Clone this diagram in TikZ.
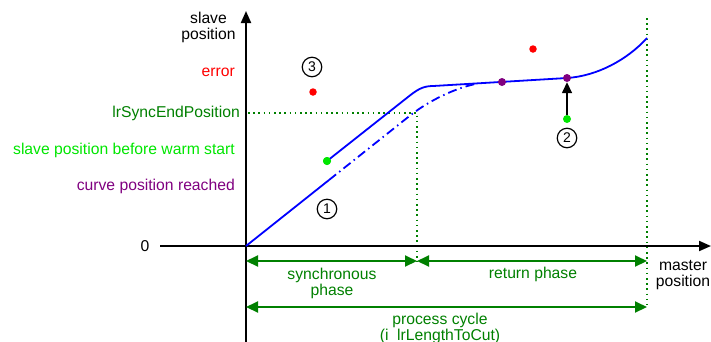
\documentclass[tikz,border=0pt]{standalone}
\usepackage{fontspec}
\setmainfont{Liberation Sans}
\usetikzlibrary{arrows.meta}
\definecolor{dgreen}{RGB}{0,128,0}
\definecolor{lgreen}{RGB}{0,230,0}
\definecolor{purp}{RGB}{128,0,128}
\definecolor{cblue}{RGB}{0,0,255}
\begin{document}
\begin{tikzpicture}[x=1pt,y=-1pt,
  lbl/.style={inner sep=0pt,font=\fontsize{15.7pt}{16pt}\selectfont},
  circnum/.style={draw,circle,line width=1.2pt,minimum size=19.5pt,inner sep=0pt,font=\fontsize{14pt}{14pt}\selectfont},
  dotnode/.style={circle,inner sep=0pt,minimum size=8pt},
  axisline/.style={line width=2pt,-{Triangle[length=12pt,width=10pt]}},
  garrow/.style={dgreen,line width=2pt,{Triangle[length=12pt,width=11pt]}-{Triangle[length=12pt,width=11pt]}},
  gdotted/.style={dgreen,line width=1.6pt,dash pattern=on 1.6pt off 3.6pt},
  curveline/.style={cblue,line width=1.8pt},
  dashdot/.style={cblue,line width=1.8pt,dash pattern=on 9pt off 4pt on 1.5pt off 4pt}]
\useasboundingbox (0,0) rectangle (711,341);
% coordinates
\coordinate (O) at (246,246);
\coordinate (ytop) at (246,11);
\coordinate (ybot) at (246,350);
\coordinate (xleft) at (160,246);
\coordinate (xright) at (711,246);
\coordinate (hd0) at (248,113);
\coordinate (hd1) at (417,113);
\coordinate (vd1) at (417,262);
\coordinate (vr0) at (647,18);
\coordinate (vr1) at (647,305);
\coordinate (sA) at (246,261);
\coordinate (sB) at (417,261);
\coordinate (sC) at (647,261);
\coordinate (pA) at (246,307);
\coordinate (pB) at (647,307);
% dotted guide lines
\draw[gdotted] (hd0) -- (hd1) -- (vd1);
\draw[gdotted] (vr0) -- (vr1);
% axes
\draw[axisline] (ybot) -- (ytop);
\draw[axisline] (xleft) -- (xright);
% curves
\coordinate (c1) at (329,180);
\coordinate (c2) at (410,115.6);
\coordinate (c3) at (424,104.5);
\coordinate (c4) at (450,89);
\coordinate (c5) at (478,83.4);
\draw[curveline] (O) -- (c1);
\draw[dashdot] (c1) -- (c2) .. controls (c3) and (c4) .. (c5);
\coordinate (u1) at (410,95.4);
\coordinate (u2) at (420,87.5);
\coordinate (u3) at (425,86);
\coordinate (u4) at (435,85.9);
\coordinate (u5) at (567,78);
\coordinate (u6) at (597,76);
\coordinate (u7) at (627,60);
\coordinate (u8) at (647,38);
\node[dotnode,fill=lgreen] (g1) at (327,161) {};
\draw[curveline] (g1.center) -- (u1) .. controls (u2) and (u3) .. (u4) -- (u5) .. controls (u6) and (u7) .. (u8);
% dots
\node[dotnode,fill=lgreen] (g1b) at (327,161) {};
\node[dotnode,fill=red,minimum size=7.5pt] (r1) at (313,92) {};
\node[dotnode,fill=red,minimum size=7.5pt] (r2) at (533,49) {};
\node[dotnode,fill=purp] (p1) at (502,82) {};
\node[dotnode,fill=purp] (p2) at (567,78) {};
\node[dotnode,fill=lgreen] (g2) at (567,119) {};
\draw[line width=1.5pt,-{Triangle[length=11pt,width=10pt]}] (g2) -- (p2);
% circled numbers
\node[circnum] (n1) at (327,209) {1};
\node[circnum] (n2) at (567,138) {2};
\node[circnum] (n3) at (312,67) {3};
% phase arrows
\draw[garrow] (sA) -- (sB);
\draw[garrow] (sB) -- (sC);
\draw[garrow] (pA) -- (pB);
% labels
\node[lbl,align=center] (ylab) at (208.5,27.5) {slave\\position};
\node[lbl,anchor=east,text=red] (lerr) at (235,72) {error};
\node[lbl,anchor=east,text=dgreen] (lsync) at (240,113) {lrSyncEndPosition};
\node[lbl,anchor=east,text=lgreen] (lwarm) at (235,150) {slave position before warm start};
\node[lbl,anchor=east,text=purp] (lcurve) at (235,186) {curve position reached};
\node[lbl] (lzero) at (145,246) {0};
\node[lbl,align=center,text=dgreen] (lsp) at (332,283.7) {synchronous\\phase};
\node[lbl,text=dgreen] (lrp) at (533,274) {return phase};
\node[lbl,align=center,text=dgreen,anchor=north] (lpc) at (440,312.5) {process cycle\\(i\_lrLengthToCut)};
\node[lbl,align=center] (xlab) at (683,275.5) {master\\position};
\end{tikzpicture}
\end{document}
